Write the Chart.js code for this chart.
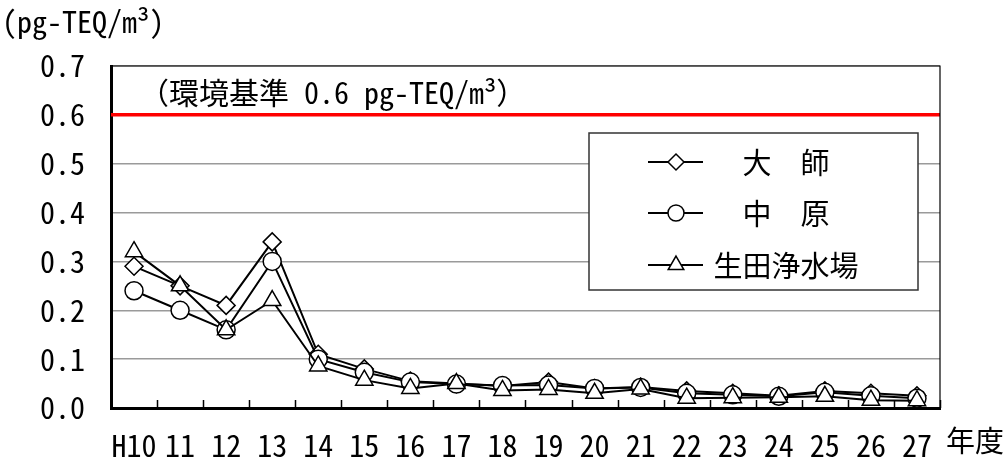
<!DOCTYPE html>
<html lang="ja">
<head>
<meta charset="utf-8">
<title>ダイオキシン類濃度の経年変化</title>
<script src="https://cdn.jsdelivr.net/npm/chart.js@4/dist/chart.umd.min.js"></script>
<style>
  html, body { margin: 0; padding: 0; background: #fff; }
  #wrap { position: relative; width: 1006px; height: 457px; }
</style>
</head>
<body>
<div id="wrap"><canvas id="c" width="1006" height="457"></canvas></div>
<script>
// 年度
const years = ['H10', '11', '12', '13', '14', '15', '16', '17', '18', '19', '20', '21', '22', '23', '24', '25', '26', '27'];

// 測定地点ごとの年平均値 (pg-TEQ/m³)
const daishi = [0.29, 0.25, 0.21, 0.34, 0.11, 0.08, 0.055, 0.05, 0.045, 0.053, 0.04, 0.043, 0.035, 0.03, 0.025, 0.035, 0.03, 0.025];
const nakahara = [0.24, 0.20, 0.16, 0.30, 0.10, 0.073, 0.053, 0.049, 0.046, 0.047, 0.04, 0.042, 0.03, 0.027, 0.024, 0.032, 0.025, 0.02];
const ikuta = [0.32, 0.25, 0.16, 0.22, 0.086, 0.057, 0.04, 0.05, 0.036, 0.038, 0.03, 0.039, 0.02, 0.021, 0.022, 0.024, 0.016, 0.015];

const seriesNames = ['大　師', '中　原', '生田浄水場'];

// 環境基準
const standard = 0.6;

// 縦軸
const yTicks = [0, 0.1, 0.2, 0.3, 0.4, 0.5, 0.6, 0.7];

const unitLabel = '(pg-TEQ/m³)';
const xTitle = '年度';

const FONT = '"Noto Sans Mono CJK JP", "Noto Sans CJK JP", sans-serif';
Chart.defaults.font.family = FONT;
Chart.defaults.color = '#000';

function seriesStyle(style, radius) {
  return {
    borderColor: '#000',
    borderWidth: 2,
    pointStyle: style,
    pointRadius: radius,
    pointHoverRadius: radius,
    pointBackgroundColor: '#fff',
    pointBorderColor: '#000',
    pointBorderWidth: 1.5,
    tension: 0,
    fill: false
  };
}

// 基準線、注記、凡例、目盛り線などの描画
const decorations = {
  id: 'decorations',
  beforeDatasetsDraw(chart) {
    const { ctx, chartArea: a, scales: { y } } = chart;
    const yy = y.getPixelForValue(standard);
    ctx.save();
    ctx.strokeStyle = '#ff0000';
    ctx.lineWidth = 3.5;
    ctx.beginPath();
    ctx.moveTo(a.left, yy);
    ctx.lineTo(a.right, yy);
    ctx.stroke();
    ctx.restore();
  },
  afterDatasetsDraw(chart) {
    const { ctx, chartArea: a, scales: { x, y } } = chart;
    ctx.save();

    // 枠線 (上・右)
    ctx.strokeStyle = '#000';
    ctx.lineWidth = 1.2;
    ctx.beginPath();
    ctx.moveTo(a.left, a.top);
    ctx.lineTo(a.right, a.top);
    ctx.lineTo(a.right, a.bottom);
    ctx.stroke();

    // 横軸の内向き目盛り
    ctx.lineWidth = 1.5;
    const half = (x.getPixelForValue(1) - x.getPixelForValue(0)) / 2;
    ctx.beginPath();
    for (let i = 0; i <= years.length; i++) {
      const px = Math.round(x.getPixelForValue(0) - half + i * half * 2) + 0.5;
      ctx.moveTo(px, a.bottom);
      ctx.lineTo(px, a.bottom - 8);
    }
    ctx.stroke();

    // 基準値の注記
    ctx.fillStyle = '#000';
    ctx.font = '30px ' + FONT;
    ctx.textAlign = 'left';
    ctx.textBaseline = 'middle';
    ctx.fillText('（環境基準 ' + standard.toFixed(1) + ' pg-TEQ/m³）', a.left + 28, y.getPixelForValue(standard) - 22);

    // 単位と年度
    ctx.fillText(unitLabel, 2, 22);
    ctx.font = '29px ' + FONT;
    ctx.fillText(xTitle, a.right + 6, a.bottom + 33);

    // 凡例
    const bx = a.left + 478, by = a.top + 67, bw = 329, bh = 157;
    ctx.fillStyle = '#fff';
    ctx.fillRect(bx, by, bw, bh);
    ctx.strokeStyle = '#333';
    ctx.lineWidth = 1.5;
    ctx.strokeRect(bx, by, bw, bh);
    const rows = [by + 29, by + 80, by + 132];
    chart.data.datasets.forEach((ds, i) => {
      const ry = rows[i];
      ctx.strokeStyle = '#000';
      ctx.lineWidth = 2;
      ctx.beginPath();
      ctx.moveTo(bx + 59, ry);
      ctx.lineTo(bx + 114, ry);
      ctx.stroke();
      ctx.fillStyle = '#fff';
      ctx.strokeStyle = '#000';
      ctx.lineWidth = 1.5;
      Chart.helpers.drawPoint(ctx, {
        pointStyle: ds.pointStyle,
        radius: ds.pointRadius - 1,
        rotation: 0,
        borderWidth: 1.5
      }, bx + 87, ry);
      ctx.fillStyle = '#000';
      ctx.font = '29px ' + FONT;
      ctx.textAlign = 'center';
      ctx.fillText(ds.label, bx + 197, ry + 1);
    });
    ctx.restore();
  }
};

new Chart(document.getElementById('c'), {
  type: 'line',
  data: {
    labels: years,
    datasets: [
      Object.assign({ label: seriesNames[0], data: daishi, order: 2 }, seriesStyle('rectRot', 9)),
      Object.assign({ label: seriesNames[1], data: nakahara, order: 1 }, seriesStyle('circle', 9)),
      Object.assign({ label: seriesNames[2], data: ikuta, order: 0 }, seriesStyle('triangle', 10))
    ]
  },
  options: {
    responsive: false,
    animation: false,
    events: [],
    layout: { padding: { top: 66, right: 66, left: 0, bottom: 0 } },
    plugins: {
      legend: { display: false },
      tooltip: { enabled: false },
      title: { display: false }
    },
    scales: {
      x: {
        type: 'category',
        offset: true,
        grid: { display: false },
        border: { display: true, color: '#000', width: 3 },
        ticks: {
          font: { size: 30 },
          color: '#000',
          padding: 12,
          maxRotation: 0,
          autoSkip: false
        },
        afterFit(scale) { scale.height = 49; }
      },
      y: {
        min: yTicks[0],
        max: yTicks[yTicks.length - 1],
        afterBuildTicks(scale) { scale.ticks = yTicks.map(v => ({ value: v })); },
        grid: { color: '#9a9a9a', lineWidth: 1.5, drawTicks: false },
        border: { display: true, color: '#000', width: 3 },
        ticks: {
          font: { size: 30 },
          color: '#000',
          padding: 26,
          callback: v => Number(v).toFixed(1)
        },
        afterFit(scale) { scale.width = 111; }
      }
    }
  },
  plugins: [decorations]
});
</script>
</body>
</html>
